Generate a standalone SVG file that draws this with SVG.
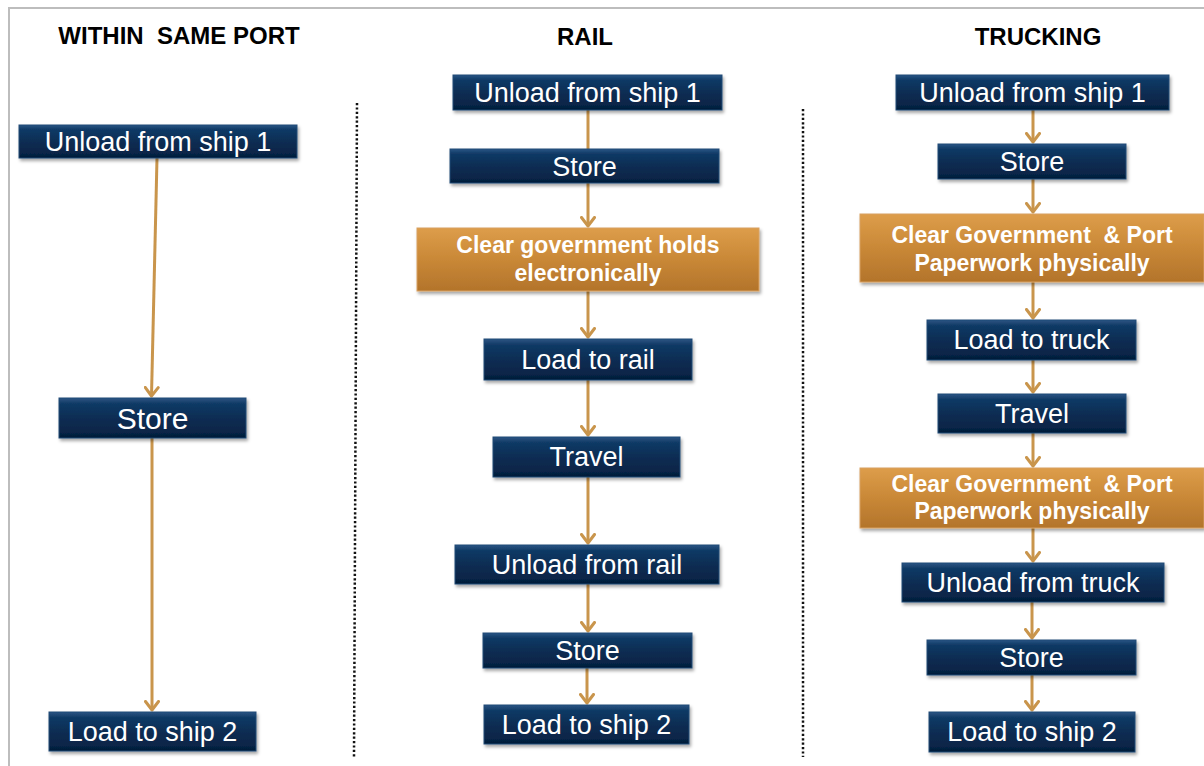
<svg xmlns="http://www.w3.org/2000/svg" width="1204" height="766" viewBox="0 0 1204 766">
<style>
.hdr{font-family:"Liberation Sans",Arial,sans-serif;font-weight:bold;font-size:24px;fill:#000;text-anchor:middle}
.nt{font-family:"Liberation Sans",Arial,sans-serif;font-size:27px;fill:#fff;text-anchor:middle}
.ot{font-family:"Liberation Sans",Arial,sans-serif;font-weight:bold;font-size:23px;fill:#fff;text-anchor:middle}
.navy{fill:url(#gNavy);stroke:#1f4a76;stroke-width:1;filter:url(#sh)}
.org{fill:url(#gOrg);stroke:#d8a060;stroke-width:1;filter:url(#sh)}
.cn{stroke:#c9954c;stroke-width:3;fill:none}
.arr{marker-end:url(#ah)}
.div{stroke:#111;stroke-width:2.5;stroke-dasharray:2.2 2.2;fill:none}
</style>
<defs>
<linearGradient id="gNavy" x1="0" y1="0" x2="0" y2="1">
<stop offset="0" stop-color="#2c5684"/>
<stop offset="0.14" stop-color="#113a66"/>
<stop offset="0.5" stop-color="#0b2d53"/>
<stop offset="0.86" stop-color="#072548"/>
<stop offset="1" stop-color="#041b36"/>
</linearGradient>
<linearGradient id="gOrg" x1="0" y1="0" x2="0" y2="1">
<stop offset="0" stop-color="#dd9d4a"/>
<stop offset="0.5" stop-color="#c98837"/>
<stop offset="1" stop-color="#b3742b"/>
</linearGradient>
<filter id="sh" x="-10%" y="-20%" width="120%" height="150%">
<feDropShadow dx="1.5" dy="2.5" stdDeviation="1.5" flood-color="#000" flood-opacity="0.35"/>
</filter>
<marker id="ah" viewBox="0 0 12 16" refX="10" refY="8" markerWidth="12" markerHeight="16" markerUnits="userSpaceOnUse" orient="auto">
<path d="M1.5,1.5 L10,8 L1.5,14.5" fill="none" stroke="#c9954c" stroke-width="3" stroke-linecap="round" stroke-linejoin="round"/>
</marker>
</defs>
<rect width="1204" height="766" fill="#fff"/>
<path d="M9,766 V8 H1204" fill="none" stroke="#bdbdbd" stroke-width="2"/>

<g id="headers">
<text class="hdr" x="179" y="44" xml:space="preserve">WITHIN  SAME PORT</text>
<text class="hdr" x="585" y="45">RAIL</text>
<text class="hdr" x="1038" y="45">TRUCKING</text>
</g>

<g id="dividers">
<line class="div" x1="357" y1="103" x2="354" y2="757"/>
<line class="div" x1="803" y1="109" x2="803" y2="757"/>
</g>

<g id="connectors">
<line class="cn arr" x1="157" y1="158" x2="151.5" y2="396"/>
<line class="cn arr" x1="152" y1="438" x2="152" y2="710"/>

<line class="cn" x1="588" y1="110" x2="588" y2="149"/>
<line class="cn arr" x1="588" y1="183" x2="588" y2="226"/>
<line class="cn arr" x1="588" y1="291" x2="588" y2="337"/>
<line class="cn arr" x1="588" y1="380" x2="588" y2="435"/>
<line class="cn arr" x1="588" y1="477" x2="588" y2="543"/>
<line class="cn arr" x1="588" y1="584" x2="588" y2="631"/>
<line class="cn arr" x1="587" y1="668" x2="587" y2="703"/>

<line class="cn arr" x1="1033" y1="110" x2="1033" y2="142"/>
<line class="cn arr" x1="1033" y1="179" x2="1033" y2="212"/>
<line class="cn arr" x1="1033" y1="282" x2="1033" y2="318"/>
<line class="cn arr" x1="1033" y1="360" x2="1033" y2="392"/>
<line class="cn arr" x1="1033" y1="433" x2="1033" y2="466"/>
<line class="cn arr" x1="1033" y1="528" x2="1033" y2="561"/>
<line class="cn arr" x1="1032" y1="602" x2="1032" y2="638"/>
<line class="cn arr" x1="1032" y1="675" x2="1032" y2="710"/>
</g>

<g id="p-unload">
<rect class="navy" x="19" y="125" width="278" height="33"/>
<text class="nt" x="158" y="151">Unload from ship 1</text>
</g>
<g id="p-store">
<rect class="navy" x="59" y="398" width="187" height="40"/>
<text class="nt" x="152.5" y="429" style="font-size:30px">Store</text>
</g>
<g id="p-load">
<rect class="navy" x="49" y="712" width="207" height="39"/>
<text class="nt" x="152.5" y="741">Load to ship 2</text>
</g>

<g id="r-unload">
<rect class="navy" x="453" y="75" width="269" height="35"/>
<text class="nt" x="587.5" y="102">Unload from ship 1</text>
</g>
<g id="r-store1">
<rect class="navy" x="450" y="149" width="269" height="34"/>
<text class="nt" x="584.5" y="176">Store</text>
</g>
<g id="r-clear">
<rect class="org" x="417" y="228" width="342" height="63"/>
<text class="ot" x="588" y="253">Clear government holds</text>
<text class="ot" x="588" y="281">electronically</text>
</g>
<g id="r-loadrail">
<rect class="navy" x="484" y="339" width="208" height="41"/>
<text class="nt" x="588" y="369">Load to rail</text>
</g>
<g id="r-travel">
<rect class="navy" x="493" y="437" width="187" height="40"/>
<text class="nt" x="586.5" y="466">Travel</text>
</g>
<g id="r-unloadrail">
<rect class="navy" x="455" y="545" width="264" height="39"/>
<text class="nt" x="587" y="574">Unload from rail</text>
</g>
<g id="r-store2">
<rect class="navy" x="483" y="633" width="209" height="35"/>
<text class="nt" x="587.5" y="660">Store</text>
</g>
<g id="r-load">
<rect class="navy" x="484" y="705" width="205" height="39"/>
<text class="nt" x="586.5" y="734">Load to ship 2</text>
</g>

<g id="t-unload">
<rect class="navy" x="896" y="75" width="273" height="35"/>
<text class="nt" x="1032.5" y="102">Unload from ship 1</text>
</g>
<g id="t-store1">
<rect class="navy" x="938" y="144" width="188" height="35"/>
<text class="nt" x="1032" y="171">Store</text>
</g>
<g id="t-clear1">
<rect class="org" x="860" y="214" width="344" height="68"/>
<text class="ot" x="1032" y="243" xml:space="preserve">Clear Government  &amp; Port</text>
<text class="ot" x="1032" y="271">Paperwork physically</text>
</g>
<g id="t-loadtruck">
<rect class="navy" x="927" y="320" width="209" height="40"/>
<text class="nt" x="1031.5" y="349">Load to truck</text>
</g>
<g id="t-travel">
<rect class="navy" x="938" y="394" width="188" height="39"/>
<text class="nt" x="1032" y="423">Travel</text>
</g>
<g id="t-clear2">
<rect class="org" x="860" y="468" width="344" height="60"/>
<text class="ot" x="1032" y="492" xml:space="preserve">Clear Government  &amp; Port</text>
<text class="ot" x="1032" y="519">Paperwork physically</text>
</g>
<g id="t-unloadtruck">
<rect class="navy" x="902" y="563" width="262" height="39"/>
<text class="nt" x="1033" y="592">Unload from truck</text>
</g>
<g id="t-store2">
<rect class="navy" x="927" y="640" width="209" height="35"/>
<text class="nt" x="1031.5" y="667">Store</text>
</g>
<g id="t-load">
<rect class="navy" x="929" y="712" width="206" height="40"/>
<text class="nt" x="1032" y="741">Load to ship 2</text>
</g>
</svg>
